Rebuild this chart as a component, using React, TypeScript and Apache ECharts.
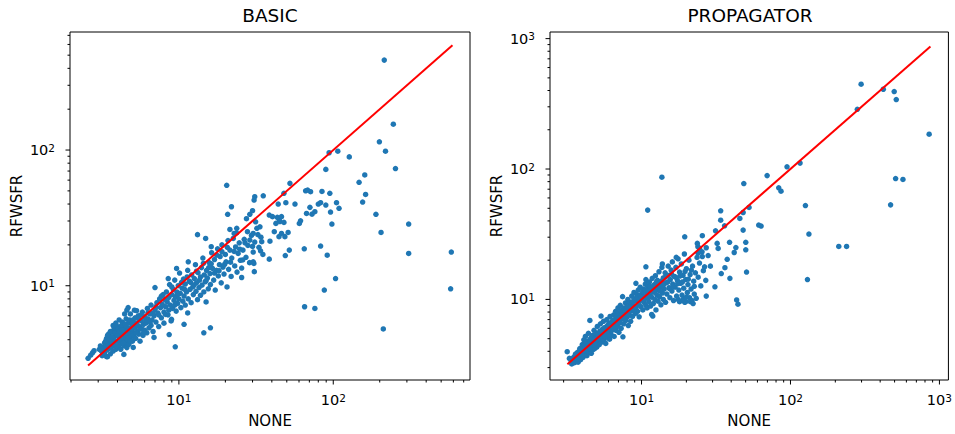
import React, { useEffect, useRef } from 'react';
import * as echarts from 'echarts';

const FONT = '"DejaVu Sans", sans-serif';

// ---------- data: BASIC ----------
const basicCluster: [number, number][] = [
  [2.58, 2.92], [2.68, 3.08], [2.76, 3.21], [2.82, 3.32], [3.18, 3.05], [3.4, 3.0],
  [3.05, 3.4], [3.1, 3.6], [3.15, 3.3], [3.2, 3.1], [3.25, 3.5], [3.3, 3.8], [3.3, 3.2], [3.35, 3.6],
  [3.4, 4.1], [3.4, 3.35], [3.45, 3.0], [3.5, 3.7], [3.5, 4.4], [3.55, 3.45], [3.6, 3.9], [3.6, 3.15],
  [3.65, 4.2], [3.65, 3.55],
  [3.7, 3.8], [3.7, 4.6], [3.75, 3.3], [3.8, 4.0], [3.8, 4.9], [3.85, 3.6], [3.9, 4.3], [3.9, 3.4],
  [3.95, 4.7], [4.0, 3.9], [4.0, 5.0], [4.05, 3.55], [4.1, 4.4], [4.1, 4.0], [4.15, 3.7], [4.2, 4.8],
  [4.2, 3.4], [4.25, 4.2], [4.3, 5.4], [4.3, 3.9], [4.35, 4.5], [4.4, 3.6], [4.4, 5.0], [4.45, 4.1],
  [4.5, 4.7], [4.5, 3.8], [4.55, 5.7], [4.6, 4.3], [4.6, 3.5], [4.65, 4.9],
  [4.7, 4.0], [4.7, 5.3], [4.75, 3.7], [4.8, 4.5], [4.85, 6.2], [4.9, 4.2], [4.95, 5.0], [5.0, 4.6],
  [5.0, 3.9], [5.05, 5.6], [5.1, 4.3], [5.15, 6.6], [5.2, 4.9], [5.25, 4.1], [5.3, 5.3], [5.4, 4.6],
  [5.45, 6.0], [5.5, 4.4], [5.55, 5.0], [5.6, 3.9], [5.7, 5.5], [5.75, 4.8], [5.8, 6.4], [5.85, 4.3],
  [5.9, 5.2], [6.0, 4.7], [6.0, 5.9],
  [6.1, 5.3], [6.2, 4.5], [6.25, 6.8], [6.3, 5.7], [6.4, 4.9], [6.5, 6.2], [6.6, 5.1], [6.6, 7.2],
  [6.7, 5.6], [6.8, 4.6], [6.9, 6.0], [7.0, 6.7], [7.0, 9.7], [7.1, 5.4], [7.2, 7.5], [7.3, 6.3],
  [7.4, 5.0], [7.5, 8.0], [7.6, 6.9], [7.7, 5.8], [7.8, 7.3], [7.9, 8.6], [8.0, 6.4], [8.0, 5.3],
  [8.2, 7.0], [8.3, 9.0], [8.4, 7.6], [8.5, 6.1], [8.6, 8.2], [8.7, 10.2], [8.8, 7.2], [8.9, 5.5],
  [9.0, 8.6], [9.1, 6.8], [9.2, 9.4], [9.3, 7.8], [9.4, 11.0], [9.5, 8.3], [9.6, 6.5], [9.7, 9.0],
  [9.8, 7.4], [9.9, 10.0], [10.0, 8.0], [10.1, 12.4], [10.2, 8.8], [10.3, 6.9], [10.5, 9.6], [10.6, 7.7],
  [10.7, 11.2], [10.8, 8.4], [11.0, 10.3], [11.0, 7.2],
  [11.2, 9.0], [11.4, 13.0], [11.5, 8.0], [11.7, 10.8], [11.8, 9.4], [12.0, 7.5], [12.1, 12.0], [12.3, 9.8],
  [12.4, 8.6], [12.6, 11.3], [12.8, 14.3], [12.9, 9.1], [13.0, 10.5], [13.2, 7.9], [13.3, 12.5], [13.5, 9.7],
  [13.6, 11.0], [13.8, 8.5], [14.0, 13.6], [14.1, 10.1], [14.3, 16.0], [14.5, 9.0], [14.6, 12.0], [14.8, 10.7],
  [15.0, 7.6], [15.1, 13.0], [15.3, 11.4], [15.5, 9.5], [15.7, 14.8], [15.9, 12.3], [16.0, 10.2],
  [16.3, 17.5], [16.5, 13.4], [16.8, 11.0], [17.0, 15.6], [17.2, 9.3], [17.5, 13.0], [17.8, 18.7], [18.0, 11.8],
  [18.3, 14.3], [18.5, 16.4], [18.8, 10.5], [19.0, 20.0], [19.3, 13.7], [19.6, 12.2], [20.0, 17.0], [20.2, 15.0],
  [20.5, 9.8], [20.8, 21.5], [21.0, 13.2], [21.4, 18.3], [21.8, 11.7], [22.0, 16.0], [22.5, 22.3], [23.0, 14.0],
  [23.3, 19.3], [23.8, 12.6], [24.2, 17.3], [24.6, 20.7], [25.0, 15.4], [25.5, 13.5],
  [26.0, 18.3], [26.5, 22.0], [27.2, 16.2], [28.0, 19.8], [28.7, 14.8], [29.5, 23.5], [30.3, 17.7], [31.0, 21.0],
  [32.0, 26.5], [33.0, 19.2], [34.0, 22.8], [35.0, 17.0],
  [11.5, 15.0], [9.66, 13.4], [8.53, 11.3], [5.32, 6.55], [4.69, 6.9],
  [3.35, 3.9], [3.45, 4.3], [3.55, 4.0], [3.6, 4.6], [3.7, 4.2], [3.75, 5.1], [3.8, 3.7], [3.85, 4.5],
  [3.9, 5.3], [3.95, 3.6], [4.0, 4.3], [4.05, 4.8], [4.1, 5.6], [4.15, 4.6], [4.2, 4.1], [4.25, 5.1],
  [4.3, 4.7], [4.35, 3.8], [4.4, 4.4], [4.45, 6.2], [4.5, 5.2], [4.55, 4.5], [4.6, 6.6], [4.65, 4.0],
  [4.7, 4.7], [4.8, 5.6], [4.85, 3.9], [4.9, 4.8], [5.0, 5.3], [5.1, 5.0], [5.2, 5.8], [5.3, 4.5],
  [5.4, 5.1], [5.5, 5.7], [5.6, 4.8], [5.7, 6.1], [5.9, 4.5], [6.1, 5.6], [6.3, 6.3], [6.5, 5.4],
  [6.8, 6.3], [7.1, 7.0], [7.4, 6.1], [7.7, 8.4], [8.1, 7.9], [8.6, 6.6], [9.0, 9.8], [9.4, 7.2],
  [9.8, 8.6], [10.4, 10.6], [10.9, 9.4], [11.3, 11.6], [11.9, 10.6], [12.5, 10.1], [13.0, 12.8], [13.8, 11.6],
  [14.4, 14.6], [15.0, 10.9], [15.6, 13.6], [16.2, 14.5], [17.0, 12.4], [17.6, 16.8], [18.2, 12.9], [19.0, 17.8],
  [19.8, 14.4], [20.6, 19.2], [21.6, 14.9], [22.8, 17.9], [23.6, 24.5], [24.8, 18.6], [26.8, 20.7], [27.8, 25.0],
  [30.0, 19.5], [32.5, 23.8],
];

const basicOutliers: [number, number][] = [
  [214, 460], [245, 155], [199, 115], [218, 98], [94, 95.5], [107, 98], [127, 89], [89.5, 72],
  [253, 73], [160, 65.5], [147, 57.8], [52.4, 56.8], [20.4, 55], [162, 47.1], [155, 41.4], [189, 33.6],
  [204, 24.7], [308, 28.5], [308, 17.3], [582, 17.7], [576, 9.5], [211, 4.8], [103.5, 11.3], [87.5, 9.3],
  [65.2, 7.0], [76, 6.8], [82.8, 19.6], [91.4, 16.8], [64.9, 18.7], [48.9, 16.7], [51.9, 18.3],
  [84.5, 49.5], [95, 48], [66.2, 50.1], [68.2, 50.7], [71.3, 49.3], [80, 40], [82.8, 40.9], [89.5, 39.3],
  [105, 40.9], [109, 37.2], [70.6, 37.8], [72.8, 33.7], [76, 35.1], [67.1, 34.1], [96, 34.9], [98, 28.5],
  [60.3, 28.8], [61.4, 30.1], [56.5, 40], [49.3, 40.9], [44, 40], [47.9, 48], [44.7, 30.5], [51, 24.7],
  [46.2, 24.3], [48.6, 23], [41.5, 25], [38.5, 33.2], [40.4, 32.3], [43.4, 31.9], [46.2, 32.3], [45.1, 29.7],
  [42.5, 28.8], [44.5, 23], [47.9, 29.3], [35.2, 46], [31, 45.3], [30.7, 42.8], [28.8, 33.6], [27.4, 31.2],
  [31.4, 29.6], [33.5, 27.2], [30.3, 24.3], [34.4, 21.1], [38.5, 15.7], [30.6, 14.6], [30.8, 12.7], [25.5, 11.5],
  [21.4, 26], [21.9, 38.2], [20.7, 33.6], [30, 35.7], [22.8, 24.3], [23.7, 26.5], [13.2, 23.8], [14.9, 22.3],
  [16.2, 19.4], [33.8, 18.1], [30.3, 15.0], [25.9, 15.5], [38.9, 21.3], [28.8, 21.7],
  [9.47, 3.55], [8.65, 4.37], [10.8, 5.2], [14.5, 4.5], [16, 4.9], [11.4, 6.3], [4.4, 3.12], [5.06, 3.51],
  [6.9, 4.16], [8.96, 5.65], [8.2, 6.15],
];

const basicDiagonal: [number, number][] = [[2.58, 2.58], [592, 592]];
const basicXRange = [1.97, 769];
const basicYRange = [2.02, 741];

// ---------- data: PROPAGATOR ----------
const propCluster: [number, number][] = [
  [3.17, 3.97], [3.28, 3.53], [3.37, 3.33], [3.4, 3.2], [3.55, 3.27], [3.5, 3.6], [3.6, 3.4], [3.64, 3.64],
  [3.7, 3.9], [3.75, 3.3], [3.8, 3.6], [3.85, 4.2], [3.9, 3.45], [3.95, 3.8],
  [4.0, 4.5], [4.0, 4.0], [4.05, 3.6], [4.1, 4.9], [4.1, 4.2], [4.15, 3.8], [4.2, 4.6], [4.2, 5.2],
  [4.25, 4.0], [4.3, 4.4], [4.3, 3.7], [4.35, 4.8], [4.4, 5.5], [4.4, 4.1], [4.45, 3.9], [4.5, 4.5],
  [4.5, 6.9], [4.55, 5.0], [4.6, 4.3], [4.6, 3.86], [4.65, 4.7], [4.7, 5.3], [4.7, 4.1], [4.75, 4.9],
  [4.8, 4.4], [4.8, 5.8], [4.85, 4.2], [4.9, 5.1], [4.95, 4.6], [5.0, 5.5], [5.0, 4.3],
  [5.05, 6.2], [5.1, 4.8], [5.15, 5.2], [5.2, 4.5], [5.25, 5.7], [5.3, 6.5], [5.35, 7.45], [5.35, 5.0],
  [5.4, 4.7], [5.45, 5.9], [5.5, 5.3], [5.55, 6.8], [5.6, 4.9], [5.65, 5.6], [5.7, 6.1], [5.75, 4.6],
  [5.8, 5.4], [5.85, 7.0], [5.9, 6.3], [5.95, 5.1], [6.0, 5.8], [6.05, 6.6], [6.1, 4.95], [6.15, 7.4],
  [6.2, 5.6], [6.25, 6.2], [6.3, 5.3], [6.4, 6.9], [6.45, 5.9],
  [6.5, 7.6], [6.55, 5.2], [6.6, 6.4], [6.7, 8.1], [6.75, 5.8], [6.8, 7.0], [6.9, 6.2], [6.95, 8.6],
  [7.0, 7.4], [7.05, 5.6], [7.1, 6.7], [7.2, 9.0], [7.25, 7.8], [7.3, 6.0], [7.4, 7.1], [7.46, 10.5],
  [7.5, 8.3], [7.5, 5.17], [7.6, 6.5], [7.7, 7.7], [7.8, 9.4], [7.85, 6.9], [7.9, 8.0], [8.0, 7.3],
  [8.1, 10.0], [8.15, 6.3], [8.2, 8.7], [8.3, 7.6], [8.4, 9.3], [8.45, 6.8],
  [8.5, 8.2], [8.6, 10.6], [8.7, 7.4], [8.8, 9.0], [8.9, 11.3], [9.0, 8.5], [9.1, 7.8], [9.17, 13.3],
  [9.2, 9.7], [9.3, 10.9], [9.4, 8.1], [9.5, 11.8], [9.6, 9.2], [9.64, 7.36], [9.7, 10.3], [9.8, 12.4],
  [9.9, 8.8], [10.0, 9.9], [10.1, 11.0], [10.2, 8.3], [10.3, 12.0], [10.4, 9.5], [10.5, 10.6], [10.6, 13.1],
  [10.7, 14.2], [10.7, 9.0], [10.8, 11.5], [10.9, 8.6], [11.0, 10.2], [11.0, 12.6],
  [11.2, 9.6], [11.3, 13.6], [11.4, 11.0], [11.5, 8.9], [11.6, 12.2], [11.7, 10.4], [11.8, 14.5], [11.9, 7.45],
  [12.0, 9.3], [12.1, 11.7], [12.2, 13.0], [12.3, 10.0], [12.4, 15.2], [12.5, 8.3], [12.5, 12.4], [12.7, 10.8],
  [12.8, 14.0], [12.9, 9.7], [13.0, 11.9], [13.1, 16.3], [13.2, 10.5], [13.4, 13.3], [13.5, 9.1], [13.6, 12.5],
  [13.7, 17.6], [13.8, 11.2], [13.8, 18.7], [14.0, 14.6], [14.0, 10.0],
  [14.2, 12.0], [14.4, 16.0], [14.5, 9.5], [14.6, 13.4], [14.8, 11.0], [15.0, 15.3], [15.1, 18.0], [15.3, 12.3],
  [15.5, 10.3], [15.6, 14.2], [15.8, 16.8], [16.0, 11.6], [16.1, 19.4], [16.2, 13.1], [16.4, 9.8], [16.6, 15.0],
  [16.8, 12.4], [17.0, 17.6], [17.2, 10.6], [17.4, 14.0], [17.6, 20.5], [17.8, 11.8], [18.0, 16.2], [18.0, 9.6],
  [18.3, 13.3], [18.5, 18.7], [18.7, 10.8], [19.0, 15.3], [19.2, 12.2], [19.4, 22.3], [19.5, 9.5], [19.8, 14.2],
  [19.8, 9.6], [20.0, 17.2], [20.3, 11.3], [20.5, 13.0], [20.8, 20.0], [21.0, 10.3], [21.2, 15.5], [21.5, 12.0],
  [21.8, 9.8], [22.0, 18.0], [22.2, 9.3], [22.4, 13.8], [22.6, 11.0], [23.0, 16.0], [23.3, 10.2], [23.6, 21.0],
  [24.0, 14.8], [24.5, 19.0], [25.0, 12.7], [25.5, 23.2], [26.0, 16.6], [27.0, 14.0], [28.0, 21.7], [29.0, 18.0],
  [3.45, 3.5], [3.6, 3.8], [3.7, 3.5], [3.8, 4.0], [3.9, 4.1], [4.0, 3.7], [4.05, 4.3], [4.15, 4.4],
  [4.25, 4.7], [4.3, 4.1], [4.4, 4.6], [4.5, 4.2], [4.55, 4.8], [4.6, 5.1], [4.7, 4.5], [4.8, 4.9],
  [4.9, 4.5], [5.0, 5.0], [5.1, 5.4], [5.2, 5.0], [5.3, 5.6], [5.4, 5.3], [5.5, 5.0], [5.6, 6.0],
  [5.7, 5.2], [5.8, 5.8], [5.9, 5.6], [6.0, 6.2], [6.1, 5.9], [6.2, 6.5], [6.3, 5.8], [6.4, 6.1],
  [6.5, 6.6], [6.6, 7.0], [6.7, 6.2], [6.8, 7.4], [6.9, 6.6], [7.0, 7.9], [7.1, 7.2], [7.2, 6.6],
  [7.3, 8.2], [7.4, 7.6], [7.6, 8.6], [7.7, 7.1], [7.8, 8.2], [8.0, 8.8], [8.1, 7.7], [8.3, 9.5],
  [8.5, 8.8], [8.7, 9.6], [8.9, 8.1], [9.0, 10.1], [9.2, 8.7], [9.4, 10.4], [9.6, 9.6], [9.8, 10.8],
  [10.0, 10.4], [10.2, 11.5], [10.4, 10.0], [10.6, 11.8], [10.9, 10.6], [11.1, 11.8], [11.4, 12.6], [11.7, 11.4],
  [12.0, 12.6], [12.3, 11.3], [12.6, 13.6], [13.0, 12.8], [13.3, 11.6], [13.7, 13.9], [14.1, 13.0], [14.5, 14.9],
  [15.0, 13.6], [15.4, 12.1], [15.9, 15.6], [16.3, 12.6], [16.9, 14.8], [17.5, 13.2], [18.1, 15.1], [18.8, 13.6],
  [19.6, 16.4], [20.6, 14.3], [21.6, 16.8], [22.6, 12.6], [19.0, 10.0], [20.0, 10.4], [21.3, 9.6], [17.6, 10.0],
];

const propOutliers: [number, number][] = [
  [298, 447], [420, 409], [497, 393], [513, 341], [281, 287], [853, 185], [508, 84.5], [569, 83.2],
  [470, 53.1], [116, 111], [94.8, 104], [69.7, 89], [83.4, 71.7], [86.4, 67.6], [48.6, 77.4], [13.7, 86.5],
  [11, 48.4], [126, 52.5], [133, 31.7], [211, 25.5], [238, 25.5], [130, 14.2], [52.7, 50.7], [34, 47.8],
  [34, 40.5], [36.1, 36.7], [48.1, 46.4], [45.7, 41.8], [48.1, 34], [61.2, 37.2], [63.5, 36.5], [50.1, 27.4],
  [50.1, 24], [50.7, 16.2], [39, 27.4], [43, 25], [41.9, 22.9], [37.6, 20.3], [36.3, 17.5], [39.2, 14.5],
  [34.3, 15.8], [32.2, 26.9], [32.7, 24.6], [31.1, 12.5], [27.2, 10.6], [26.5, 17.8], [31.4, 33.6], [25.6, 30.8],
  [43.5, 9.9], [44.4, 9.2], [19.5, 30.2], [23.7, 26.9], [23.9, 25.4], [24.5, 24.6], [24, 22.6], [25.6, 21.3],
  [27.2, 24.9], [10.7, 17.8], [11.7, 7.67], [17.1, 21],
];

const propDiagonal: [number, number][] = [[3.18, 3.18], [870, 870]];
const propXRange = [2.43, 1149];
const propYRange = [2.41, 1124];

// ---------- tick values ----------
const basicXMajor = [10, 100];
const basicXMinor = [2, 3, 4, 5, 6, 7, 8, 9, 20, 30, 40, 50, 60, 70, 80, 90, 200, 300, 400, 500, 600, 700];
const basicYMajor = [10, 100];
const basicYMinor = [3, 4, 5, 6, 7, 8, 9, 20, 30, 40, 50, 60, 70, 80, 90, 200, 300, 400, 500, 600, 700];
const propXMajor = [10, 100, 1000];
const propXMinor = [3, 4, 5, 6, 7, 8, 9, 20, 30, 40, 50, 60, 70, 80, 90, 200, 300, 400, 500, 600, 700, 800, 900];
const propYMajor = [10, 100, 1000];
const propYMinor = [3, 4, 5, 6, 7, 8, 9, 20, 30, 40, 50, 60, 70, 80, 90, 200, 300, 400, 500, 600, 700, 800, 900];

const BLUE = '#1f77b4';

function powLabel(value: number): string {
  const l = Math.log10(value);
  const r = Math.round(l);
  if (Math.abs(l - r) < 1e-6) return `{b|10}{s|${r}}`;
  return '';
}

const labelRich = {
  b: { fontSize: 14.5, fontFamily: FONT, color: '#000', lineHeight: 16 },
  s: { fontSize: 10.5, fontFamily: FONT, color: '#000', lineHeight: 10, verticalAlign: 'top' },
};

function tickSeries(grid: number, axis: 'x' | 'y', values: number[], other: number, len: number) {
  return {
    type: 'custom',
    xAxisIndex: grid,
    yAxisIndex: grid,
    clip: false,
    silent: true,
    z: 5,
    data: values.map((v) => (axis === 'x' ? [v, other] : [other, v])),
    renderItem: (params: any, api: any) => {
      const cs = params.coordSys;
      const pt = api.coord([api.value(0), api.value(1)]);
      if (axis === 'x') {
        const y0 = cs.y + cs.height;
        return {
          type: 'line',
          shape: { x1: pt[0], y1: y0, x2: pt[0], y2: y0 + len },
          style: { stroke: '#000', lineWidth: 1 },
        };
      }
      const x0 = cs.x;
      return {
        type: 'line',
        shape: { x1: x0, y1: pt[1], x2: x0 - len, y2: pt[1] },
        style: { stroke: '#000', lineWidth: 1 },
      };
    },
  };
}

function xAxisFor(grid: number, range: number[]) {
  return {
    type: 'log',
    gridIndex: grid,
    logBase: 10,
    min: range[0],
    max: range[1],
    name: 'NONE',
    nameLocation: 'middle',
    nameGap: 33,
    nameTextStyle: { fontSize: 15, fontFamily: FONT, color: '#000' },
    axisLine: { show: false },
    axisTick: { show: false },
    splitLine: { show: false },
    minorTick: { show: false },
    axisLabel: { margin: 12, formatter: powLabel, rich: labelRich, showMinLabel: false, showMaxLabel: false },
  };
}

function yAxisFor(grid: number, range: number[]) {
  return {
    type: 'log',
    gridIndex: grid,
    logBase: 10,
    min: range[0],
    max: range[1],
    name: 'RFWSFR',
    nameLocation: 'middle',
    nameGap: 46,
    nameTextStyle: { fontSize: 15, fontFamily: FONT, color: '#000' },
    axisLine: { show: false },
    axisTick: { show: false },
    splitLine: { show: false },
    minorTick: { show: false },
    axisLabel: { margin: 15, formatter: powLabel, rich: labelRich, showMinLabel: false, showMaxLabel: false },
  };
}

export default function App() {
  const ref = useRef<HTMLDivElement>(null);
  useEffect(() => {
    if (!ref.current) return;
    const chart = echarts.init(ref.current, null, { renderer: 'svg' });
    const option: any = {
      animation: false,
      backgroundColor: '#fff',
      textStyle: { fontFamily: FONT },
      grid: [
        { left: 70, top: 32, width: 400, height: 348, show: true, borderColor: '#000', borderWidth: 1, backgroundColor: 'transparent' },
        { left: 550, top: 32, width: 400, height: 348, show: true, borderColor: '#000', borderWidth: 1, backgroundColor: 'transparent' },
      ],
      xAxis: [xAxisFor(0, basicXRange), xAxisFor(1, propXRange)],
      yAxis: [yAxisFor(0, basicYRange), yAxisFor(1, propYRange)],
      graphic: [
        { type: 'text', x: 270, y: 15, style: { text: 'BASIC', font: `18.5px ${FONT}`, fill: '#000', align: 'center', verticalAlign: 'middle' } },
        { type: 'text', x: 750, y: 15, style: { text: 'PROPAGATOR', font: `18.5px ${FONT}`, fill: '#000', align: 'center', verticalAlign: 'middle' } },
      ],
      series: [
        { type: 'scatter', xAxisIndex: 0, yAxisIndex: 0, data: [...basicCluster, ...basicOutliers], symbolSize: 5.5, itemStyle: { color: BLUE, opacity: 1 }, z: 2 },
        { type: 'line', xAxisIndex: 0, yAxisIndex: 0, data: basicDiagonal, symbol: 'none', lineStyle: { color: '#ff0000', width: 2 }, z: 3 },
        { type: 'scatter', xAxisIndex: 1, yAxisIndex: 1, data: [...propCluster, ...propOutliers], symbolSize: 5.5, itemStyle: { color: BLUE, opacity: 1 }, z: 2 },
        { type: 'line', xAxisIndex: 1, yAxisIndex: 1, data: propDiagonal, symbol: 'none', lineStyle: { color: '#ff0000', width: 2 }, z: 3 },
        tickSeries(0, 'x', basicXMajor, basicYRange[0], 4.5),
        tickSeries(0, 'x', basicXMinor, basicYRange[0], 2.5),
        tickSeries(0, 'y', basicYMajor, basicXRange[0], 4.5),
        tickSeries(0, 'y', basicYMinor, basicXRange[0], 2.5),
        tickSeries(1, 'x', propXMajor, propYRange[0], 4.5),
        tickSeries(1, 'x', propXMinor, propYRange[0], 2.5),
        tickSeries(1, 'y', propYMajor, propXRange[0], 4.5),
        tickSeries(1, 'y', propYMinor, propXRange[0], 2.5),
      ],
    };
    chart.setOption(option);
    return () => chart.dispose();
  }, []);
  return <div ref={ref} style={{ position: 'fixed', left: 0, top: 0, width: 955, height: 434 }} />;
}
